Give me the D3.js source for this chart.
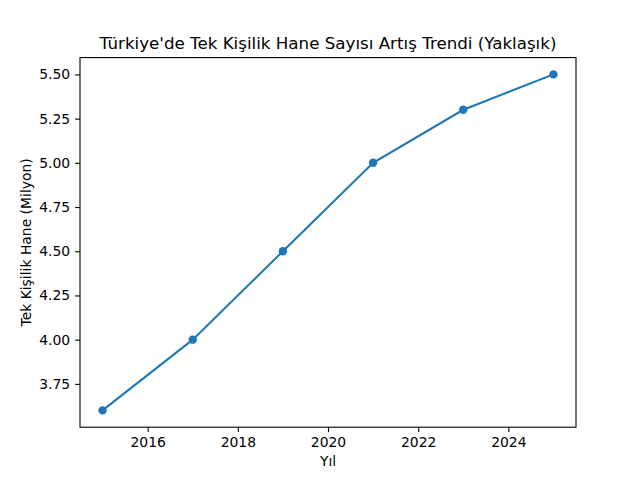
<!DOCTYPE html>
<html>
<head>
<meta charset="utf-8">
<script src="https://cdn.jsdelivr.net/npm/d3@7"></script>
<style>
  body { margin: 0; background: #fff; }
  svg { font-family: "DejaVu Sans", sans-serif; }
</style>
</head>
<body>
<svg id="chart" width="640" height="480"></svg>
<script>
// data
const years = [2015, 2017, 2019, 2021, 2023, 2025];
const households = [3.6, 4.0, 4.5, 5.0, 5.3, 5.5];
const xTicks = [2016, 2018, 2020, 2022, 2024];
const yTicks = [3.75, 4.00, 4.25, 4.50, 4.75, 5.00, 5.25, 5.50];

const width = 640, height = 480;
const plotLeft = 80, plotRight = 576, plotTop = 57.6, plotBottom = 427.2;
const color = "#1f77b4";

const svg = d3.select("#chart");

const xPad = (d3.max(years) - d3.min(years)) * 0.05;
const yPad = (d3.max(households) - d3.min(households)) * 0.05;

const x = d3.scaleLinear()
    .domain([d3.min(years) - xPad, d3.max(years) + xPad])
    .range([plotLeft, plotRight]);

const y = d3.scaleLinear()
    .domain([d3.min(households) - yPad, d3.max(households) + yPad])
    .range([plotBottom, plotTop]);

const xAxis = svg.append("g")
    .attr("transform", `translate(0, ${plotBottom})`)
    .call(d3.axisBottom(x).tickValues(xTicks).tickFormat(d3.format("d")).tickSize(4.9).tickPadding(4.9));

const yAxis = svg.append("g")
    .attr("transform", `translate(${plotLeft}, 0)`)
    .call(d3.axisLeft(y).tickValues(yTicks).tickFormat(d3.format(".2f")).tickSize(4.9).tickPadding(4.9));

[xAxis, yAxis].forEach(function(a) {
    a.select(".domain").remove();
    a.selectAll("line").attr("stroke", "#000").attr("stroke-width", 1.1);
    a.selectAll("text")
        .attr("font-family", "DejaVu Sans, sans-serif")
        .attr("font-size", 13.9)
        .attr("fill", "#000");
});

// frame
svg.append("rect")
    .attr("x", plotLeft).attr("y", plotTop)
    .attr("width", plotRight - plotLeft).attr("height", plotBottom - plotTop)
    .attr("fill", "none").attr("stroke", "#000").attr("stroke-width", 1.1);

const points = years.map(function(d, i) { return [d, households[i]]; });

svg.append("path")
    .datum(points)
    .attr("fill", "none")
    .attr("stroke", color)
    .attr("stroke-width", 2.08)
    .attr("d", d3.line()
        .x(function(d) { return x(d[0]); })
        .y(function(d) { return y(d[1]); }));

svg.append("g")
    .selectAll("circle")
    .data(points)
    .enter()
    .append("circle")
        .attr("cx", function(d) { return x(d[0]); })
        .attr("cy", function(d) { return y(d[1]); })
        .attr("r", 4.2)
        .attr("fill", color);

svg.append("text")
    .attr("x", (plotLeft + plotRight) / 2)
    .attr("y", plotTop - 8.3)
    .attr("text-anchor", "middle")
    .attr("font-size", 16.7)
    .text("Türkiye'de Tek Kişilik Hane Sayısı Artış Trendi (Yaklaşık)");

svg.append("text")
    .attr("x", (plotLeft + plotRight) / 2)
    .attr("y", 466)
    .attr("text-anchor", "middle")
    .attr("font-size", 13.9)
    .text("Yıl");

svg.append("text")
    .attr("transform", `translate(31, ${(plotTop + plotBottom) / 2}) rotate(-90)`)
    .attr("text-anchor", "middle")
    .attr("font-size", 13.9)
    .text("Tek Kişilik Hane (Milyon)");
</script>
</body>
</html>
